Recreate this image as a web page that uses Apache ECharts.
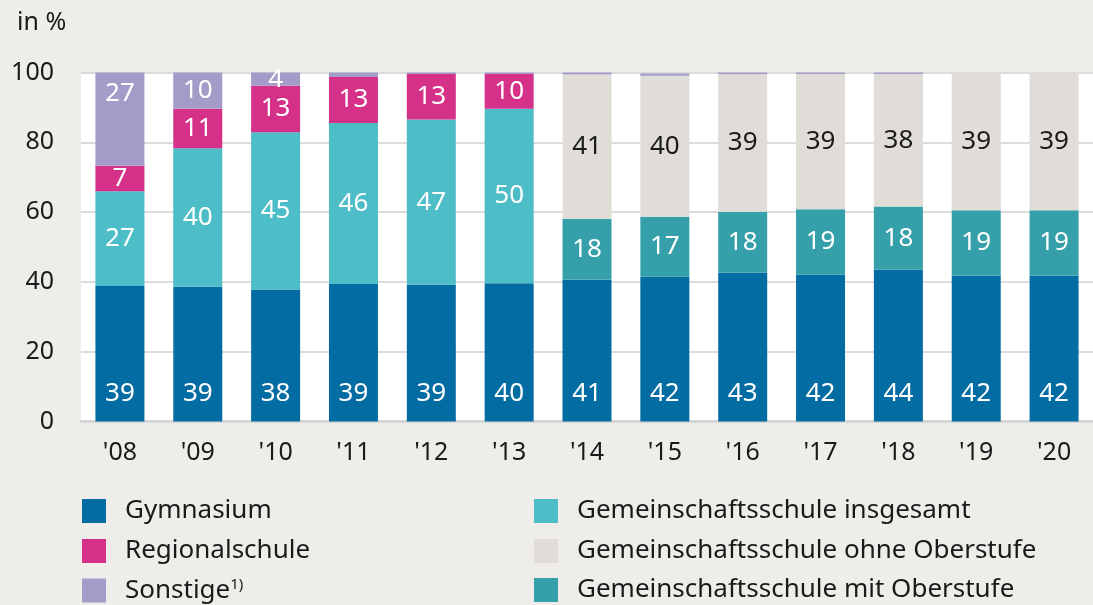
<!DOCTYPE html>
<html>
<head>
<meta charset="utf-8">
<script src="https://cdn.jsdelivr.net/npm/echarts@6/dist/echarts.min.js"></script>
<style>
  html, body { margin: 0; padding: 0; background: #eeede9; }
  #chart { width: 1093px; height: 605px; }
</style>
</head>
<body>
<div id="chart"></div>
<script>
// ************** Data **************
var years = ["'08", "'09", "'10", "'11", "'12", "'13", "'14", "'15", "'16", "'17", "'18", "'19", "'20"];

var gymnasium     = [38.8, 38.6, 37.8, 39.4, 39.2, 39.6, 40.6, 41.5, 42.6, 42.1, 43.5, 41.8, 41.8];
var gemInsgesamt  = [27.2, 39.7, 45.1, 46.1, 47.3, 50.0, null, null, null, null, null, null, null];
var gemMitOber    = [null, null, null, null, null, null, 17.5, 17.2, 17.5, 18.7, 18.1, 18.7, 18.7];
var regional      = [7.3, 11.3, 13.3, 13.2, 13.1, 10.0, null, null, null, null, null, null, null];
var gemOhneOber   = [null, null, null, null, null, null, 41.3, 40.4, 39.4, 38.8, 38.0, 39.2, 39.2];
var sonstige      = [26.7, 10.4, 3.8, 1.3, 0.4, 0.4, 0.6, 0.6, 0.5, 0.4, 0.4, null, null];

var yTicks = [0, 20, 40, 60, 80, 100];

var legendLeftCol  = ["Gymnasium", "Regionalschule", "Sonstige"];
var legendRightCol = ["Gemeinschaftsschule insgesamt", "Gemeinschaftsschule ohne Oberstufe", "Gemeinschaftsschule mit Oberstufe"];

// ************** Chart **************
var FONT = "Noto Sans";
var dom = document.getElementById("chart");
var myChart = echarts.init(dom, null, { renderer: "canvas" });

function labelFmt(p) {
  if (p.value == null || p.value < 2) return "";
  return Math.round(p.value);
}

function makeSeries(name, data, color, textColor, position) {
  return {
    name: name,
    type: "bar",
    stack: "total",
    barWidth: 49,
    data: data,
    itemStyle: { color: color },
    label: {
      show: true,
      position: position || "inside",
      distance: 15,
      color: textColor,
      fontFamily: FONT,
      fontSize: 26,
      formatter: labelFmt
    },
    emphasis: { disabled: true }
  };
}

var sonstSeries = makeSeries("Sonstige", sonstige, "#a39bc8", "#ffffff");
// first bar: label sits near the top of the segment
sonstSeries.data = sonstige.map(function (v, i) {
  if (i === 0) return { value: v, label: { position: "insideTop", distance: 8 } };
  return v;
});

// one legend per entry so rows never wrap
function makeLegend(name, left, top) {
  return {
    data: [name],
    left: left,
    top: top,
    padding: 0,
    itemWidth: 24,
    itemHeight: 24,
    icon: "rect",
    selectedMode: false,
    formatter: function (n) {
      return n === "Sonstige" ? "Sonstige{sup|1)}" : n;
    },
    textStyle: {
      fontFamily: FONT,
      fontSize: 26,
      color: "#1a1a1a",
      padding: [0, 0, 0, 14],
      rich: {
        sup: { fontFamily: FONT, fontSize: 15, color: "#1a1a1a", verticalAlign: "top", padding: [0, 0, 12, 0] }
      }
    }
  };
}

var rowTops = [498, 538, 577];
var legends = [];
legendLeftCol.forEach(function (n, i) { legends.push(makeLegend(n, 82, rowTops[i])); });
legendRightCol.forEach(function (n, i) { legends.push(makeLegend(n, 534, rowTops[i])); });

var option = {
  backgroundColor: "#eeede9",
  animation: false,
  textStyle: { fontFamily: FONT },
  title: {
    text: "in %",
    left: 12,
    top: 5,
    textStyle: { fontFamily: FONT, fontSize: 25, fontWeight: "normal", color: "#1a1a1a" }
  },
  grid: {
    left: 81,
    right: 0,
    top: 72.5,
    bottom: 183.5,
    show: true,
    backgroundColor: "#ffffff",
    borderWidth: 0
  },
  xAxis: {
    type: "category",
    data: years,
    axisTick: { show: false },
    axisLine: { show: true, lineStyle: { color: "#d6d6d6", width: 3 } },
    axisLabel: { color: "#1a1a1a", fontFamily: FONT, fontSize: 25, margin: 19 }
  },
  yAxis: {
    type: "value",
    min: yTicks[0],
    max: yTicks[yTicks.length - 1],
    interval: 20,
    axisLine: { show: false },
    axisTick: { show: false },
    splitLine: { lineStyle: { color: "#dcdcdc", width: 2 } },
    axisLabel: { color: "#1a1a1a", fontFamily: FONT, fontSize: 25, margin: 27 }
  },
  legend: legends,
  series: [
    makeSeries("Gymnasium", gymnasium, "#036ca3", "#ffffff", "insideBottom"),
    makeSeries("Gemeinschaftsschule insgesamt", gemInsgesamt, "#4dbdc8", "#ffffff"),
    makeSeries("Gemeinschaftsschule mit Oberstufe", gemMitOber, "#36a0aa", "#ffffff"),
    makeSeries("Regionalschule", regional, "#d63189", "#ffffff"),
    makeSeries("Gemeinschaftsschule ohne Oberstufe", gemOhneOber, "#e0ddd8", "#1a1a1a"),
    sonstSeries
  ]
};

myChart.setOption(option);
window.addEventListener("resize", myChart.resize);
</script>
</body>
</html>
